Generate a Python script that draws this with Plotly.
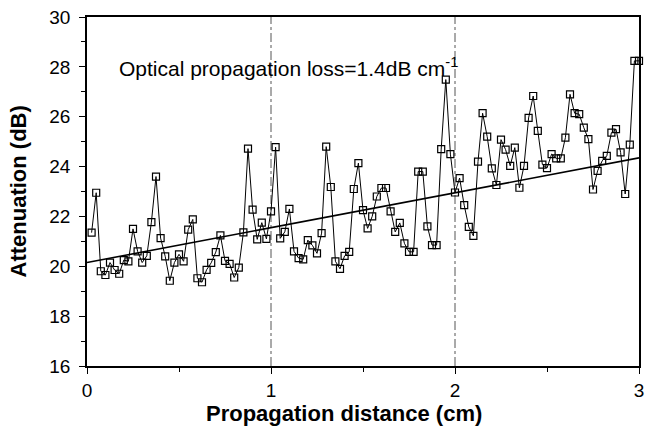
import plotly.graph_objects as go

# Propagation distance sampling step (cm) and measured attenuation (dB)
step_cm = 0.025
attenuation_db = [
    21.35, 22.95, 19.8, 19.65, 20.15, 19.85, 19.7, 20.25, 20.2, 21.5,
    20.6, 20.15, 20.42, 21.77, 23.6, 21.13, 20.4, 19.42, 20.15, 20.48,
    20.2, 21.47, 21.88, 19.52, 19.36, 19.86, 20.14, 20.57, 21.24, 20.22,
    20.1, 19.55, 19.95, 21.36, 24.72, 22.27, 21.08, 21.75, 21.1, 22.2,
    24.78, 21.12, 21.38, 22.3, 20.6, 20.33, 20.28, 21.05, 20.84, 20.52,
    21.33, 24.8, 23.18, 20.2, 19.9, 20.42, 20.58, 23.1, 24.14, 22.25,
    21.52, 22.0, 22.8, 23.14, 23.14, 22.2, 21.38, 21.74, 20.92, 20.58,
    20.58, 23.8, 23.8, 21.6, 20.85, 20.85, 24.7, 27.49, 24.5, 22.96,
    23.54, 22.45, 21.58, 21.22, 24.2, 26.14, 25.2, 23.93, 23.26, 25.08,
    24.68, 24.03, 24.76, 23.15, 24.03, 25.95, 26.83, 25.43, 24.08, 23.94,
    24.5, 24.33, 24.33, 25.16, 26.9, 26.14, 26.1, 25.56, 25.1, 23.08,
    23.83, 24.23, 24.43, 25.36, 25.5, 24.57, 22.9, 24.88, 28.24, 28.24,
]
distance_cm = [round(step_cm * (i + 1), 4) for i in range(len(attenuation_db))]

# Linear fit: propagation loss (slope) and intercept
loss_db_per_cm = 1.4
intercept_db = 20.15
fit_x = [0.0, 3.0]
fit_y = [intercept_db + loss_db_per_cm * x for x in fit_x]

x_ticks = [0, 1, 2, 3]
y_ticks = [16, 18, 20, 22, 24, 26, 28, 30]
guide_x = [1, 2]

font_family = "Liberation Sans, Arial, sans-serif"

fig = go.Figure()

fig.add_trace(go.Scatter(
    x=fit_x, y=fit_y, mode="lines",
    line=dict(color="black", width=1.6),
    hoverinfo="skip", showlegend=False,
))

fig.add_trace(go.Scatter(
    x=distance_cm, y=attenuation_db, mode="lines+markers",
    line=dict(color="black", width=1),
    marker=dict(symbol="square-open", size=7, color="black",
                line=dict(width=1.2, color="black")),
    cliponaxis=False, showlegend=False,
))

# dash-dot guides at whole centimetres
for gx in guide_x:
    fig.add_shape(type="line", xref="x", yref="y",
                  x0=gx, x1=gx, y0=16, y1=30,
                  line=dict(color="#555555", width=1, dash="dashdot"),
                  layer="below")

fig.add_annotation(
    x=0.165, y=28, xref="x", yref="y", xanchor="left", yanchor="middle",
    text="Optical propagation loss=1.4dB cm<sup>-1</sup>",
    showarrow=False, font=dict(family=font_family, size=21, color="black"),
)

# axis titles
fig.add_annotation(
    x=0.465, y=0, xref="paper", yref="paper", xanchor="center", yanchor="middle",
    yshift=-47, text="<b>Propagation distance (cm)</b>", showarrow=False,
    font=dict(family=font_family, size=22, color="black"),
)
fig.add_annotation(
    x=0, y=0.5, xref="paper", yref="paper", xanchor="center", yanchor="middle",
    xshift=-69, textangle=-90, text="<b>Attenuation (dB)</b>", showarrow=False,
    font=dict(family=font_family, size=22, color="black"),
)

fig.update_layout(
    width=649, height=433,
    margin=dict(l=87, r=5, t=17, b=67),
    paper_bgcolor="white", plot_bgcolor="white",
    font=dict(family=font_family, color="black"),
    xaxis=dict(
        range=[0, 3], tickvals=x_ticks, ticktext=[str(v) for v in x_ticks],
        ticks="outside", ticklen=6, tickwidth=1, tickcolor="black",
        minor=dict(dtick=0.5, ticks="outside", ticklen=4, tickcolor="black"),
        showline=True, linecolor="black", linewidth=1.5, mirror=True,
        showgrid=False, zeroline=False,
        tickfont=dict(size=19),
    ),
    yaxis=dict(
        range=[16, 30], tickvals=y_ticks, ticktext=[str(v) for v in y_ticks],
        ticks="outside", ticklen=6, tickwidth=1, tickcolor="black",
        minor=dict(dtick=1, ticks="outside", ticklen=4, tickcolor="black"),
        showline=True, linecolor="black", linewidth=1.5, mirror=True,
        showgrid=False, zeroline=False,
        tickfont=dict(size=19), ticklabelstandoff=5,
    ),
)

fig.write_html("out.html")
